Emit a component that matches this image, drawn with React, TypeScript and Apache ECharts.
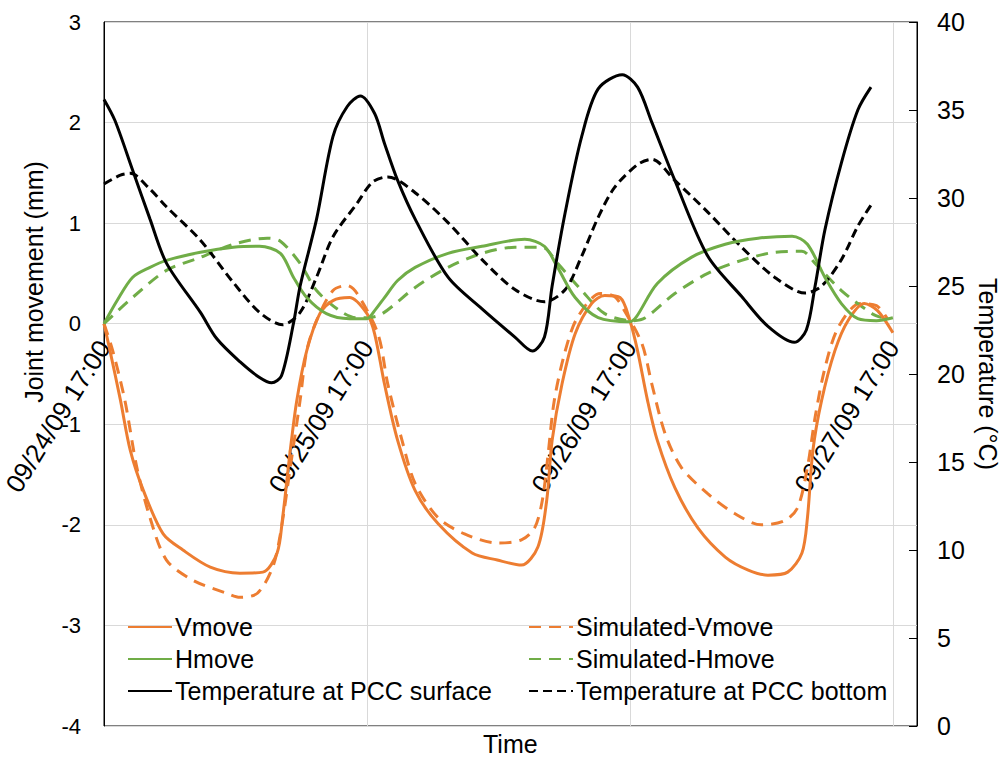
import React, { useEffect, useRef } from "react";
import * as echarts from "echarts";

// hours since 09/24/09 17:00
const tickLabels = ["09/24/09 17:00", "09/25/09 17:00", "09/26/09 17:00", "09/27/09 17:00"];
const yLeftTicks = [-4, 3, 1];
const yRightTicks = [0, 40, 5];

const vmove: [number, number][] = [
  [0, 0], [0.55, -0.27], [1.5, -0.76], [2.4, -1.26], [3.6, -1.66], [5.4, -2.09], [7.2, -2.25], [9.7, -2.42],
  [12.4, -2.48], [14.5, -2.47], [15.8, -2.28], [16.3, -1.93], [17.0, -1.26], [17.6, -0.76], [18.5, -0.27],
  [19.7, 0.1], [20.9, 0.23], [22.4, 0.26], [24.0, 0.1], [24.7, -0.1], [25.6, -0.6], [26.8, -1.16], [28.4, -1.66],
  [30.5, -1.99], [33.6, -2.28], [35.9, -2.35], [38.1, -2.4], [39.6, -2.22], [40.4, -1.76], [40.9, -1.16],
  [41.8, -0.6], [43.0, -0.1], [44.5, 0.2], [45.7, 0.28], [47.1, 0.26], [48.0, 0.03], [48.7, -0.27], [49.6, -0.76],
  [50.5, -1.16], [52.1, -1.63], [54.2, -2.03], [56.7, -2.32], [58.8, -2.45], [60.6, -2.5], [62.4, -2.47],
  [63.7, -2.28], [64.2, -1.93], [64.7, -1.26], [65.5, -0.76], [66.7, -0.27], [67.9, 0.03], [69.4, 0.2],
  [70.6, 0.13], [72.0, -0.09],
];

const simVmove: [number, number][] = [
  [0, 0], [0.8, -0.27], [1.9, -0.76], [3.0, -1.43], [4.2, -1.93], [5.7, -2.35], [8.1, -2.55], [11.2, -2.68],
  [12.4, -2.72], [14.0, -2.68], [15.4, -2.42], [16.1, -2.09], [17.0, -1.43], [17.9, -0.76], [18.5, -0.27],
  [19.4, 0.03], [20.9, 0.33], [22.2, 0.38], [23.1, 0.3], [25.0, -0.1], [25.9, -0.6], [27.2, -1.16], [28.4, -1.59],
  [30.5, -1.93], [32.9, -2.09], [35.9, -2.18], [38.1, -2.15], [39.3, -2.03], [40.0, -1.76], [40.5, -1.33],
  [41.1, -0.76], [42.1, -0.27], [43.2, 0.06], [45.3, 0.3], [46.6, 0.27], [47.5, 0.13], [49.1, -0.2], [50.0, -0.6],
  [51.2, -1.09], [52.7, -1.43], [55.1, -1.69], [57.6, -1.89], [60.0, -2.0], [62.1, -1.96], [63.3, -1.83],
  [64.2, -1.43], [64.9, -0.93], [65.8, -0.44], [67.0, -0.04], [69.0, 0.2], [70.5, 0.18], [71.5, 0.05],
];

const hmove: [number, number][] = [
  [0, 0], [1.2, 0.23], [2.6, 0.46], [4.2, 0.56], [5.7, 0.63], [8.8, 0.71], [11.8, 0.76], [14.2, 0.77],
  [16.1, 0.7], [17.3, 0.46], [18.5, 0.26], [20.3, 0.1], [22.4, 0.05], [24.0, 0.05], [24.7, 0.13], [25.6, 0.26],
  [26.8, 0.43], [28.4, 0.56], [31.4, 0.7], [34.5, 0.77], [38.4, 0.84], [40.2, 0.77], [41.4, 0.56], [43.0, 0.26],
  [45.1, 0.06], [48.0, 0.02], [48.6, 0.07], [50.5, 0.4], [53.6, 0.66], [56.7, 0.79], [59.7, 0.85], [62.8, 0.87],
  [64.2, 0.79], [65.8, 0.46], [67.3, 0.2], [68.8, 0.05], [70.5, 0.03], [72.0, 0.06],
];

const simHmove: [number, number][] = [
  [0, 0], [2.6, 0.26], [5.7, 0.53], [8.8, 0.66], [11.8, 0.79], [14.9, 0.85], [16.1, 0.82], [17.9, 0.6],
  [19.4, 0.33], [21.5, 0.13], [23.0, 0.06], [24.0, 0.06], [25.4, 0.1], [28.4, 0.36], [31.4, 0.56], [34.5, 0.7],
  [37.5, 0.76], [40.0, 0.76], [41.4, 0.6], [43.6, 0.33], [45.7, 0.1], [48.2, 0.03], [49.4, 0.06], [52.1, 0.3],
  [55.1, 0.5], [58.2, 0.63], [61.2, 0.71], [63.7, 0.72], [64.9, 0.6], [67.3, 0.33], [70.1, 0.1], [71.0, 0.06],
];

const tempSurface: [number, number][] = [
  [0, 35.6], [1.0, 34.4], [2.6, 31.6], [4.2, 28.8], [5.7, 26.3], [8.8, 23.5], [10.3, 22.0], [12.4, 20.7],
  [14.2, 19.8], [15.3, 19.5], [16.2, 19.9], [17.3, 22.9], [17.9, 25.0], [19.4, 28.8], [20.9, 33.5], [22.2, 35.2],
  [23.4, 35.8], [24.7, 34.8], [25.6, 33.1], [26.8, 31.0], [28.4, 28.8], [31.4, 25.5], [34.5, 23.7], [37.5, 22.1],
  [39.1, 21.3], [40.2, 22.1], [40.9, 25.0], [42.1, 29.2], [43.6, 33.5], [45.1, 36.2], [47.3, 37.0], [48.7, 36.3],
  [50.0, 34.3], [52.1, 31.0], [55.1, 26.7], [58.2, 24.4], [60.6, 22.7], [63.0, 21.8], [64.1, 22.5], [64.9, 25.0],
  [65.8, 28.2], [67.3, 32.0], [68.8, 35.0], [70.0, 36.3],
];

const tempBottom: [number, number][] = [
  [0, 30.8], [1.5, 31.3], [2.4, 31.4], [4.2, 30.5], [5.7, 29.5], [8.8, 27.6], [11.8, 25.2], [14.2, 23.5],
  [16.3, 22.8], [17.9, 23.5], [19.4, 25.5], [20.9, 27.8], [23.1, 29.7], [24.5, 30.9], [25.9, 31.2], [28.4, 30.3],
  [31.4, 28.6], [34.5, 26.5], [37.5, 24.8], [40.2, 24.1], [42.1, 24.8], [43.6, 26.7], [45.1, 28.9], [46.6, 30.6],
  [48.7, 31.9], [50.0, 32.2], [52.1, 31.0], [55.1, 29.2], [58.2, 27.2], [61.2, 25.5], [64.0, 24.6], [65.5, 25.0],
  [67.3, 26.5], [68.8, 28.4], [70.0, 29.6],
];

const FONT = "'Liberation Sans', Arial, sans-serif";
const ORANGE = "#ED7D31";
const GREEN = "#70AD47";
const BLACK = "#000000";

const GRID_TOP = 22;
const GRID_BOTTOM = 31;
const CHART_H = 757;

export default function App() {
  const ref = useRef<HTMLDivElement>(null);
  useEffect(() => {
    const chart = echarts.init(ref.current!, null, { renderer: "svg" });
    const line = (name: string, data: [number, number][], color: string, dash: any, yAxisIndex: number) => ({
      name,
      type: "line",
      data,
      yAxisIndex,
      showSymbol: false,
      symbol: "none",
      smooth: 0.3,
      lineStyle: { color, width: 3, type: dash },
      itemStyle: { color },
    });
    const legendBase = {
      orient: "vertical",
      top: 613,
      padding: 0,
      itemWidth: 44,
      itemHeight: 14,
      itemGap: 4,
      itemStyle: { opacity: 0 },
      textStyle: { fontFamily: FONT, fontSize: 25, color: "#000", lineHeight: 28, padding: [0, 0, 0, -2] },
    };
    // place the category axis on the zero line of the left axis
    const plotH = CHART_H - GRID_TOP - GRID_BOTTOM;
    const zeroFromBottom = (plotH * (0 - yLeftTicks[0])) / (yLeftTicks[1] - yLeftTicks[0]);
    chart.setOption({
      animation: false,
      backgroundColor: "#fff",
      textStyle: { fontFamily: FONT, color: "#000" },
      grid: {
        left: 104, right: 85, top: GRID_TOP, bottom: GRID_BOTTOM,
        outerBoundsMode: "none",
        containLabel: false,
        show: true, borderColor: "#000", borderWidth: 1, backgroundColor: "transparent",
      },
      legend: [
        { ...legendBase, data: ["Vmove", "Hmove", "Temperature at PCC surface"], left: 127 },
        { ...legendBase, data: ["Simulated-Vmove", "Simulated-Hmove", "Temperature at PCC bottom"], left: 528 },
      ],
      xAxis: {
        type: "value",
        min: 0,
        max: 74.2,
        interval: 24,
        offset: -zeroFromBottom,
        axisLine: { show: false, onZero: false },
        axisTick: { show: false },
        splitLine: { show: true, lineStyle: { color: "#d9d9d9", width: 1 } },
        axisLabel: {
          rotate: 58,
          margin: 19,
          fontSize: 26,
          color: "#000",
          fontFamily: FONT,
          showMaxLabel: false,
          formatter: (v: number) => (Math.abs(v % 24) < 1e-6 ? tickLabels[Math.round(v / 24)] : ""),
        },
      },
      yAxis: [
        {
          type: "value",
          min: yLeftTicks[0], max: yLeftTicks[1], interval: yLeftTicks[2],
          axisLine: { show: true, onZero: false, lineStyle: { color: "#000", width: 1 } },
          axisTick: { show: false },
          splitLine: { show: true, lineStyle: { color: "#d9d9d9", width: 1 } },
          axisLabel: { fontSize: 22, color: "#000", margin: 23, fontFamily: FONT },
        },
        {
          type: "value",
          position: "right",
          min: yRightTicks[0], max: yRightTicks[1], interval: yRightTicks[2],
          name: "Temperature (°C)",
          nameLocation: "middle",
          nameRotate: -90,
          nameGap: 53,
          nameTextStyle: { fontSize: 25, color: "#000", fontFamily: FONT },
          axisLine: { show: true, onZero: false, lineStyle: { color: "#000", width: 1 } },
          axisTick: { show: true, inside: true, length: 8, lineStyle: { color: "#000" } },
          splitLine: { show: false },
          axisLabel: { fontSize: 25, color: "#000", margin: 20, fontFamily: FONT },
        },
      ],
      graphic: [
        {
          type: "text",
          x: 34,
          y: 282,
          rotation: Math.PI / 2,
          style: {
            text: "Joint movement (mm)", fontSize: 25, fill: "#000", fontFamily: FONT,
            align: "center", verticalAlign: "middle",
          },
        },
        {
          type: "text",
          left: 483,
          top: 731,
          style: { text: "Time", fontSize: 25, fill: "#000", fontFamily: FONT },
        },
      ],
      series: [
        line("Simulated-Vmove", simVmove, ORANGE, [12, 8], 0),
        line("Simulated-Hmove", simHmove, GREEN, [12, 8], 0),
        line("Temperature at PCC bottom", tempBottom, BLACK, [9, 5], 1),
        line("Vmove", vmove, ORANGE, "solid", 0),
        line("Hmove", hmove, GREEN, "solid", 0),
        line("Temperature at PCC surface", tempSurface, BLACK, "solid", 1),
      ],
    });
    return () => chart.dispose();
  }, []);
  return (
    <div
      ref={ref}
      style={{ position: "fixed", left: 0, top: 0, width: 1002, height: 757, background: "#fff" }}
    />
  );
}
